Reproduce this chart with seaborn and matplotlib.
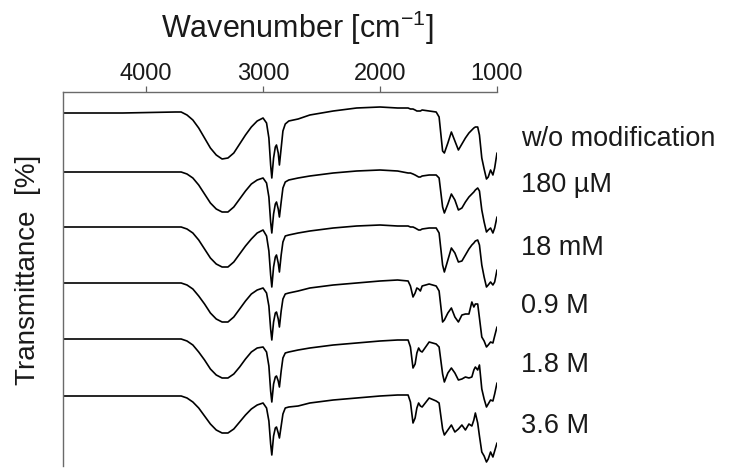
import numpy as np
import pandas as pd
import matplotlib
matplotlib.use("Agg")
import matplotlib.pyplot as plt
import seaborn as sns

# ---------------- data ----------------
wavenumber = [
    4700, 4200, 3750, 3700, 3650, 3600, 3550, 3500, 3450, 3400,
    3350, 3300, 3250, 3200, 3150, 3100, 3050, 3000, 2970, 2950,
    2935, 2925, 2910, 2895, 2885, 2870, 2860, 2845, 2830, 2810,
    2780, 2700, 2600, 2400, 2200, 2000, 1850, 1760, 1740, 1718,
    1700, 1685, 1670, 1655, 1640, 1580, 1520, 1495, 1465, 1450,
    1420, 1390, 1360, 1330, 1300, 1270, 1240, 1215, 1198, 1185,
    1165, 1150, 1130, 1110, 1090, 1075, 1055, 1035, 1020, 1000,
]

t_unmodified = [
    0, 0, 1, 1, -2, -7, -15, -25, -35, -42,
    -46, -45, -40, -31, -22, -14, -8, -5, -10, -25,
    -52, -65, -45, -34, -32, -40, -52, -35, -18, -11,
    -8, -6, -2, 2, 5, 6, 5, 5, 4, 4,
    3, 2, 2, 2, 3, 2, 1, -4, -38, -40,
    -30, -19, -28, -37, -31, -25, -20, -17, -15, -14,
    -14, -22, -45, -56, -66, -64, -57, -62, -55, -40,
]

t_180uM = [
    0, 0, 0, 0, -2, -6, -13, -22, -31, -37,
    -40, -40, -35, -27, -19, -12, -8, -6, -11, -25,
    -50, -61, -42, -32, -30, -37, -45, -30, -16, -10,
    -8, -6, -4, -1, 1, 2, 1, -1, -1, -2,
    -3, -4, -5, -5, -4, -3, -3, -6, -35, -41,
    -32, -22, -28, -38, -36, -30, -25, -22, -20, -18,
    -16, -19, -38, -50, -60, -58, -56, -61, -56, -45,
]

t_18mM = [
    0, 0, 0, 0, -2, -6, -13, -22, -31, -37,
    -40, -40, -35, -27, -19, -12, -6, -3, -9, -24,
    -48, -60, -40, -30, -28, -36, -45, -28, -15, -9,
    -8, -6, -4, -1, 1, 2, 1, 1, 0, 0,
    -1, -2, -3, -3, -2, -1, -1, -6, -38, -45,
    -33, -21, -26, -35, -34, -28, -22, -18, -16, -14,
    -13, -18, -38, -50, -60, -58, -55, -58, -55, -43,
]

t_09M = [
    0, 0, 0, 0, -2, -6, -13, -21, -30, -36,
    -39, -39, -34, -26, -18, -11, -7, -5, -10, -23,
    -46, -57, -39, -30, -29, -36, -44, -28, -16, -11,
    -10, -8, -5, -2, 0, 2, 3, 2, -3, -14,
    -10, -5, -6, -8, -3, -1, -3, -8, -39, -37,
    -30, -25, -34, -39, -32, -31, -31, -19, -24, -21,
    -21, -35, -54, -58, -64, -62, -59, -60, -53, -44,
]

t_18M = [
    0, 0, 0, 0, -2, -6, -13, -21, -30, -36,
    -39, -39, -35, -28, -20, -13, -9, -8, -13, -27,
    -52, -63, -45, -38, -37, -42, -48, -32, -19, -14,
    -13, -11, -9, -6, -4, -2, -1, -1, -8, -29,
    -25, -14, -9, -12, -13, -3, -5, -8, -35, -43,
    -34, -29, -34, -41, -40, -38, -39, -38, -31, -28,
    -31, -26, -50, -60, -68, -65, -61, -62, -55, -44,
]

t_36M = [
    0, 0, 0, 0, -2, -6, -12, -20, -28, -34,
    -37, -37, -33, -26, -19, -13, -9, -7, -12, -25,
    -48, -59, -40, -32, -31, -37, -42, -30, -18, -12,
    -11, -10, -7, -4, -2, 0, 1, 1, -6, -27,
    -22, -12, -7, -10, -11, -2, -5, -7, -33, -39,
    -34, -29, -36, -33, -29, -34, -28, -30, -24, -17,
    -27, -40, -56, -60, -66, -63, -56, -61, -55, -47,
]

samples = ["w/o modification", "180 µM", "18 mM", "0.9 M", "1.8 M", "3.6 M"]
spectra = [t_unmodified, t_180uM, t_18mM, t_09M, t_18M, t_36M]

# stacking offsets of the traces and the y of their right-hand labels
offsets = [0, -59, -114, -170, -226, -283]
label_y = [-33, -79, -142, -200, -259, -320]

# ---------------- build long-form table ----------------
frames = []
for name, vals, off in zip(samples, spectra, offsets):
    assert len(vals) == len(wavenumber), name
    frames.append(pd.DataFrame({
        "wavenumber": wavenumber,
        "transmittance": np.asarray(vals, float) + off,
        "sample": name,
    }))
df = pd.concat(frames, ignore_index=True)

# ---------------- style ----------------
sns.set_style("white")
plt.rcParams["font.family"] = ["Liberation Sans", "DejaVu Sans"]
plt.rcParams["mathtext.default"] = "regular"

W, H = 731, 468
fig = plt.figure(figsize=(W / 100, H / 100), dpi=100)
ax_l, ax_r, ax_t, ax_b = 63, 497, 92, 466
ax = fig.add_axes([ax_l / W, 1 - ax_b / H, (ax_r - ax_l) / W, (ax_b - ax_t) / H])

sns.lineplot(data=df, x="wavenumber", y="transmittance", hue="sample",
             hue_order=samples, palette=["black"] * len(samples),
             estimator=None, legend=False, linewidth=1.2, ax=ax)

ax.set_xlim(4710, 1000)
ax.set_ylim(-353, 21)

ax.xaxis.tick_top()
ax.set_xticks([4000, 3000, 2000, 1000])
ax.set_xticklabels(["4000", "3000", "2000", "1000"])
ax.tick_params(axis="x", which="both", top=True, bottom=False, direction="out",
               length=4, width=0.9, color="#606060", labelsize=17, pad=1,
               labelcolor="#1a1a1a")
ax.set_yticks([])

for side in ["right", "bottom"]:
    ax.spines[side].set_visible(False)
for side in ["left", "top"]:
    ax.spines[side].set_visible(True)
    ax.spines[side].set_color("#6a6a6a")
    ax.spines[side].set_linewidth(1.0)

ax.set_xlabel("Wavenumber [cm$^{-1}$]", fontsize=22, color="#1a1a1a", va="center")
ax.xaxis.set_label_position("top")
ax.xaxis.set_label_coords((297 - ax_l) / (ax_r - ax_l), 1 + (ax_t - 38) / (ax_b - ax_t))

ax.set_ylabel("Transmittance  [%]", fontsize=20, color="#1a1a1a", va="center")
ax.yaxis.set_label_coords((28 - ax_l) / (ax_r - ax_l), (ax_b - 270) / (ax_b - ax_t))

trans = matplotlib.transforms.blended_transform_factory(ax.transAxes, ax.transData)
for name, yl in zip(samples, label_y):
    ax.text((521 - ax_l) / (ax_r - ax_l), yl, name, transform=trans,
            fontsize=19.5, color="#1a1a1a", ha="left", va="baseline", clip_on=False)

fig.savefig("out.png", dpi=100, facecolor="white")
